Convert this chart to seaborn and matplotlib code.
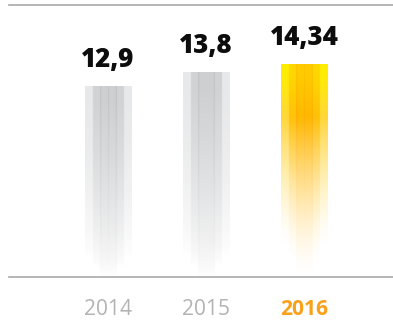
import numpy as np
import pandas as pd
import matplotlib
matplotlib.use("Agg")
import matplotlib.pyplot as plt
import seaborn as sns

# Chart data
years = ["2014", "2015", "2016"]
values = [12.9, 13.8, 14.34]
highlight_year = "2016"

GRAY_TEXT = "#b3b3b3"
ORANGE_TEXT = "#f9a11b"
RULE = "#a9a9a9"

sns.set_theme(style="white")
plt.rcParams["font.family"] = ["Open Sans", "DejaVu Sans"]

# Stripe styles: (top rgb, lower rgb, fade end as fraction of bar height)
ORANGE_STRIPES = {
    "outer": ((255, 238, 0), (255, 214, 60), 0.86),
    "second": ((255, 216, 0), (255, 192, 10), 0.93),
    "center": ((255, 204, 0), (255, 184, 0), 1.00),
    "line": ((255, 192, 0), (255, 172, 0), 1.00),
}
GRAY_STRIPES = {
    "outer": ((232, 233, 234), (228, 229, 230), 0.90),
    "second": ((210, 211, 213), (207, 208, 210), 0.95),
    "center": ((207, 208, 210), (205, 206, 208), 1.00),
    "line": ((194, 195, 198), (192, 193, 196), 1.00),
}


def bar_texture(style, lines, fade_start, power, shift, rows=500, cols=184):
    """RGBA texture of six vertical stripes fading towards the bottom."""
    t = np.linspace(0, 1, rows)
    u = (np.arange(cols) + 0.5) / cols
    stripe = np.minimum((u * 6).astype(int), 5)
    kinds = np.array(["outer", "second", "center", "center", "second", "outer"])[stripe]
    for b in lines:
        kinds = np.where(np.abs(u * 6 - b) * 46 / 6 < 0.55, "line", kinds)

    s = np.clip(t / shift, 0, 1)
    s = s * s * (3 - 2 * s)
    img = np.zeros((rows, cols, 4))
    for j, k in enumerate(kinds):
        top, low, end = style[k]
        top = np.array(top) / 255
        low = np.array(low) / 255
        rgb = top[None, :] * (1 - s)[:, None] + low[None, :] * s[:, None]
        a = np.clip((end - t) / (end - fade_start), 0, 1) ** power
        a = np.where(t < fade_start, 1.0, a)
        img[:, j, :3] = rgb
        img[:, j, 3] = a
    return img


STRIPE_LINES = {"2014": (2, 3, 4), "2015": (2, 4), "2016": (2, 3, 4)}

fig = plt.figure(figsize=(3.93, 3.22), dpi=100)
ax = fig.add_axes([9 / 393, 45.5 / 322, 384 / 393, 271.5 / 322])

df = pd.DataFrame({"year": years, "value": values})
sns.barplot(data=df, x="year", y="value", width=0.47, color="white",
            linewidth=0, ax=ax)

for patch, year, val in zip(ax.patches, years, values):
    x0 = patch.get_x()
    w = patch.get_width()
    h = patch.get_height()
    if year == highlight_year:
        tex = bar_texture(ORANGE_STRIPES, STRIPE_LINES[year],
                          fade_start=0.25, power=1.5, shift=0.3)
    else:
        tex = bar_texture(GRAY_STRIPES, STRIPE_LINES[year],
                          fade_start=0.08, power=0.75, shift=0.5)
    ax.imshow(tex, extent=[x0, x0 + w, 0, h], aspect="auto",
              interpolation="bilinear", zorder=2)
    ax.annotate(f"{val:g}".replace(".", ","), xy=(x0 + w / 2, h),
                xytext=(0, 14.4), textcoords="offset points",
                ha="center", va="baseline", fontsize=18.6,
                fontweight="heavy", color="#0d0d0d", zorder=3)

ax.set_xlim(-1.01, 2.908)
ax.set_ylim(0, 18.44)
ax.set_xlabel("")
ax.set_ylabel("")
ax.set_yticks([])
ax.set_xticks(range(len(years)))
ax.set_xticklabels(years)
ax.tick_params(axis="x", length=0, pad=16, labelsize=15.1)
for lbl in ax.get_xticklabels():
    if lbl.get_text() == highlight_year:
        lbl.set_color(ORANGE_TEXT)
        lbl.set_fontweight("bold")
    else:
        lbl.set_color(GRAY_TEXT)

for side in ("left", "right"):
    ax.spines[side].set_visible(False)
for side in ("top", "bottom"):
    ax.spines[side].set_visible(True)
    ax.spines[side].set_color(RULE)
    ax.spines[side].set_linewidth(1.2)
ax.set_facecolor("white")

fig.savefig("out.png", dpi=100, facecolor="white")
